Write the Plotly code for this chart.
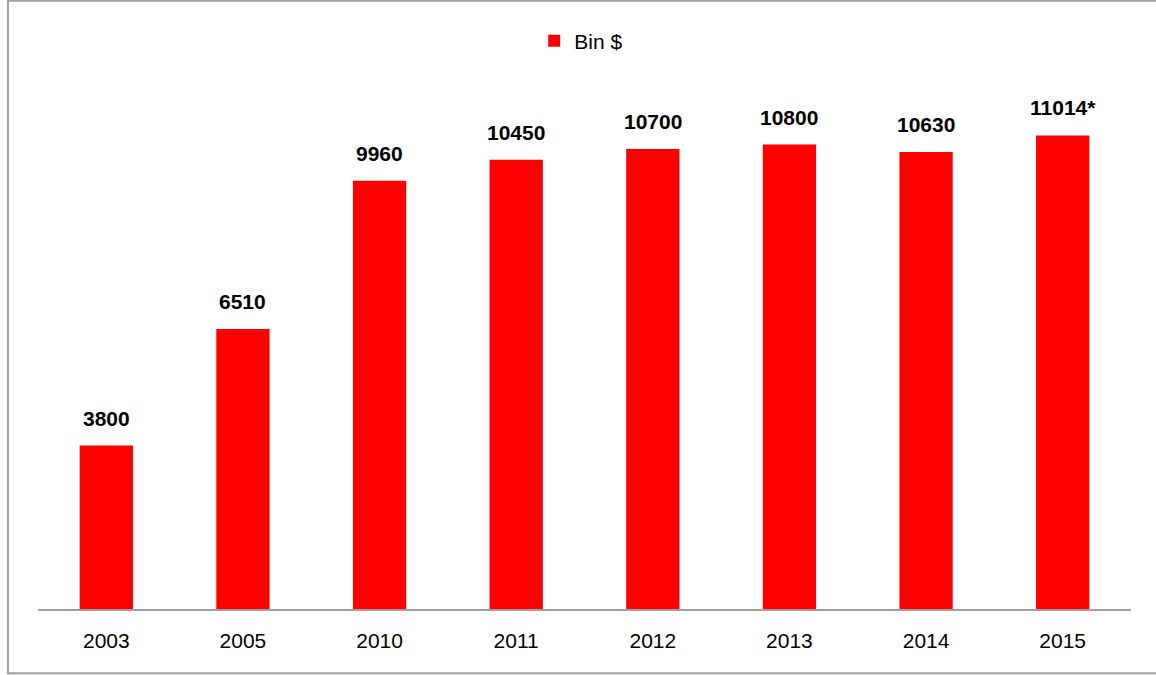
import plotly.graph_objects as go

years = ["2003", "2005", "2010", "2011", "2012", "2013", "2014", "2015"]
values = [3800, 6510, 9960, 10450, 10700, 10800, 10630, 11014]
labels = ["3800", "6510", "9960", "10450", "10700", "10800", "10630", "11014*"]
series_name = "Bin $"

FONT = "Liberation Sans Narrow, Arial Narrow, Liberation Sans, Arial, sans-serif"

fig = go.Figure()
fig.add_trace(go.Bar(
    x=years, y=values, name=series_name,
    marker=dict(color="#ff0000", line=dict(width=0)),
    showlegend=True,
))

# value labels above each bar (category index positions on the category axis)
for i, (v, t) in enumerate(zip(values, labels)):
    fig.add_annotation(x=i, y=v, xref="x", yref="y", text="<b>%s</b>" % t,
                       showarrow=False, yanchor="bottom", yshift=14,
                       font=dict(family=FONT, size=21, color="#000000"))

fig.add_shape(type="rect", xref="paper", yref="paper",
              x0=-0.0275, x1=1.08, y0=-0.1243, y1=1.1786,
              line=dict(color="#a0a0a0", width=2), layer="below")

fig.update_layout(
    width=1156, height=675,
    margin=dict(l=38, r=25, t=93, b=66, autoexpand=False),
    paper_bgcolor="white", plot_bgcolor="white",
    font=dict(family=FONT, size=20, color="#000000"),
    bargap=0.61,
    legend=dict(orientation="h", x=0.497, xanchor="center",
                yref="container", y=1 - 41 / 675, yanchor="middle",
                font=dict(family=FONT, size=21, color="#000000"),
                itemwidth=30),
    xaxis=dict(type="category", showline=True, linecolor="#a0a0a0", linewidth=1.5,
               showgrid=False, ticks="", tickfont=dict(family=FONT, size=21),
               ticklabelstandoff=12, automargin=False),
    yaxis=dict(range=[0, 12000], visible=False, showgrid=False, zeroline=False,
               automargin=False),
)

fig.write_html("out.html", config={"displayModeBar": False},
               post_script="document.body.style.margin='0';")
